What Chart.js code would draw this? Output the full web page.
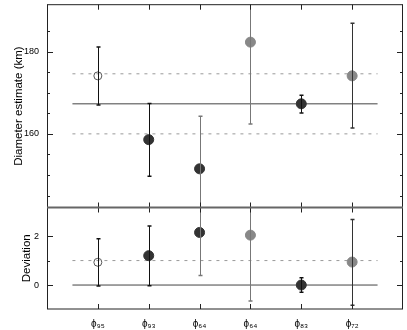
<!DOCTYPE html>
<html>
<head>
<meta charset="utf-8">
<script src="https://cdn.jsdelivr.net/npm/chart.js@4"></script>
<style>
  html, body { margin:0; padding:0; background:#fff; }
  #wrap { position:relative; width:407px; height:330px; }
  #top { position:absolute; left:0; top:0; }
  #bot { position:absolute; left:0; top:207px; }
</style>
</head>
<body>
<div id="wrap">
  <canvas id="top" width="407" height="208"></canvas>
  <canvas id="bot" width="407" height="123"></canvas>
</div>
<script>
(function(){
  const el = id => document.getElementById(id);

  // Data
  const xLabels = ['ϕ₉₅', 'ϕ₉₃', 'ϕ₆₄', 'ϕ₆₄', 'ϕ₈₃', 'ϕ₇₂'];
  const diameter = [174.1, 158.6, 151.5, 182.3, 167.3, 174.1];
  const diamLow  = [167.0, 149.7, 138.0, 162.4, 165.1, 161.4];
  const diamHigh = [181.1, 167.4, 164.3, 196.0, 169.4, 186.9];
  const deviation = [0.93, 1.2, 2.15, 2.04, 0.0, 0.94];
  const devLow  = [-0.04, -0.03, 0.39, -0.65, -0.3, -0.83];
  const devHigh = [1.89, 2.41, 3.6, 3.6, 0.3, 2.68];
  const diamMean = 167.3;
  const diamBand = [160.0, 174.6];
  const devMean = 0;
  const devBand = [1];
  const lineSpan = [0.5, 6.5];

  const FONT = "'Liberation Sans', Helvetica, Arial, sans-serif";

  // marker + bar looks per column
  const ptFill   = ['rgba(0,0,0,0)', '#333', '#333', '#888', '#333', '#888'];
  const ptBorder = ['#555', '#333', '#333', '#888', '#333', '#888'];
  const ptRadius = [4, 5, 5, 5, 5, 5];
  const barColor = ['#111', '#111', '#777', '#777', '#111', '#333'];

  function pts(vals){ return vals.map((v, i) => ({ x: i + 1, y: v })); }
  function hline(y){ return [{ x: lineSpan[0], y: y }, { x: lineSpan[1], y: y }]; }

  function refSets(mean, band){
    const sets = [{ type:'line', data: hline(mean), borderColor:'#444', borderWidth:1, pointRadius:0 }];
    band.forEach(b => sets.push({ type:'line', data: hline(b), borderColor:'#999', borderWidth:1, borderDash:[3,5], pointRadius:0 }));
    return sets;
  }

  function noPad(s){ s.paddingTop = 0; s.paddingBottom = 0; s.paddingLeft = 0; s.paddingRight = 0; }

  // error bars + inner ticks + frame, all through the chart scales
  const decor = {
    id: 'decor',
    afterDatasetsDraw(chart, args, opts){
      const ctx = chart.ctx, a = chart.chartArea;
      const xs = chart.scales.x, ys = chart.scales.y;
      ctx.save();
      ctx.beginPath(); ctx.rect(a.left, a.top, a.right - a.left, a.bottom - a.top); ctx.clip();
      opts.low.forEach((lo, i) => {
        const x = Math.round(xs.getPixelForValue(i + 1)) + 0.5;
        const y1 = ys.getPixelForValue(lo), y2 = ys.getPixelForValue(opts.high[i]);
        ctx.strokeStyle = barColor[i]; ctx.lineWidth = 1;
        ctx.beginPath(); ctx.moveTo(x, y1); ctx.lineTo(x, y2); ctx.stroke();
        ctx.lineWidth = 1.5;
        [y1, y2].forEach(y => { ctx.beginPath(); ctx.moveTo(x - 2, y); ctx.lineTo(x + 2, y); ctx.stroke(); });
      });
      ctx.restore();

      ctx.save();
      ctx.strokeStyle = '#222'; ctx.lineWidth = 1;
      ys.ticks.forEach(t => {
        const v = t.value;
        if (Math.abs(v / opts.minor - Math.round(v / opts.minor)) > 1e-6) return;
        const major = Math.abs(v / opts.major - Math.round(v / opts.major)) < 1e-6;
        const len = major ? 6 : 3;
        const y = Math.round(ys.getPixelForValue(v)) + 0.5;
        ctx.beginPath();
        ctx.moveTo(a.left, y); ctx.lineTo(a.left + len, y);
        ctx.moveTo(a.right, y); ctx.lineTo(a.right - len, y);
        ctx.stroke();
      });
      xLabels.forEach((l, i) => {
        const x = Math.round(xs.getPixelForValue(i + 1)) + 0.5;
        ctx.beginPath();
        ctx.moveTo(x, a.top); ctx.lineTo(x, a.top + 5);
        ctx.moveTo(x, a.bottom); ctx.lineTo(x, a.bottom - 5);
        ctx.stroke();
      });
      ctx.strokeStyle = '#222';
      ctx.beginPath();
      ctx.moveTo(a.left + 0.5, a.top); ctx.lineTo(a.left + 0.5, a.bottom);
      ctx.moveTo(a.right - 0.5, a.top); ctx.lineTo(a.right - 0.5, a.bottom);
      ctx.stroke();
      ctx.strokeStyle = opts.topColor; ctx.lineWidth = opts.topWidth;
      ctx.beginPath(); ctx.moveTo(a.left, a.top); ctx.lineTo(a.right, a.top); ctx.stroke();
      ctx.strokeStyle = opts.botColor; ctx.lineWidth = opts.botWidth;
      ctx.beginPath(); ctx.moveTo(a.left, a.bottom); ctx.lineTo(a.right, a.bottom); ctx.stroke();
      ctx.restore();
    }
  };

  function yAxis(min, max, step, major, title, titlePad){
    return {
      min: min, max: max,
      afterFit: s => { s.width = 47; noPad(s); },
      grid: { display:false, drawTicks:false },
      border: { display:false },
      ticks: {
        stepSize: step, padding: 8, color:'#000',
        font: { family: FONT, size: 9 },
        callback: v => (Math.abs(v / major - Math.round(v / major)) < 1e-6 ? String(Math.round(v)) : '')
      },
      title: { display:true, text: title, color:'#000', font: { family: FONT, size: 11.5 }, padding: { top: titlePad, bottom: 0 } }
    };
  }

  new Chart(el('top'), {
    type: 'scatter',
    data: {
      datasets: [
        { data: pts(diameter), pointBackgroundColor: ptFill, pointBorderColor: ptBorder, pointRadius: ptRadius, pointBorderWidth: 1 }
      ].concat(refSets(diamMean, diamBand))
    },
    options: {
      responsive:false, animation:false,
      layout: { autoPadding:false, padding: { left:0, right:4, top:4.7, bottom:0.5 } },
      plugins: { legend:{ display:false }, tooltip:{ enabled:false },
        decor: { low: diamLow, high: diamHigh, minor: 5, major: 20, topColor:'#222', topWidth:1, botColor:'#666', botWidth:2 } },
      scales: {
        x: { type:'linear', min:0, max:7, display:false },
        y: yAxis(142.1, 191.4, 5, 20, 'Diameter estimate (km)', 12)
      }
    },
    plugins: [decor]
  });

  new Chart(el('bot'), {
    type: 'scatter',
    data: {
      datasets: [
        { data: pts(deviation), pointBackgroundColor: ptFill, pointBorderColor: ptBorder, pointRadius: ptRadius, pointBorderWidth: 1 }
      ].concat(refSets(devMean, devBand))
    },
    options: {
      responsive:false, animation:false,
      layout: { autoPadding:false, padding: { left:0, right:4, top:0.5, bottom:0 } },
      plugins: { legend:{ display:false }, tooltip:{ enabled:false },
        decor: { low: devLow, high: devHigh, minor: 1, major: 2, topColor:'#666', topWidth:2, botColor:'#222', botWidth:1 } },
      scales: {
        x: {
          type:'linear', min:0, max:7,
          afterFit: s => { s.height = 21; noPad(s); },
          grid: { display:false, drawTicks:false },
          border: { display:false },
          ticks: {
            stepSize: 1, autoSkip:false, maxRotation:0, padding: 9, color:'#000',
            font: { family: FONT, size: 10 },
            callback: v => xLabels[v - 1] || ''
          }
        },
        y: yAxis(-0.98, 3.17, 1, 2, 'Deviation', 20)
      }
    },
    plugins: [decor]
  });
})();
</script>
</body>
</html>
